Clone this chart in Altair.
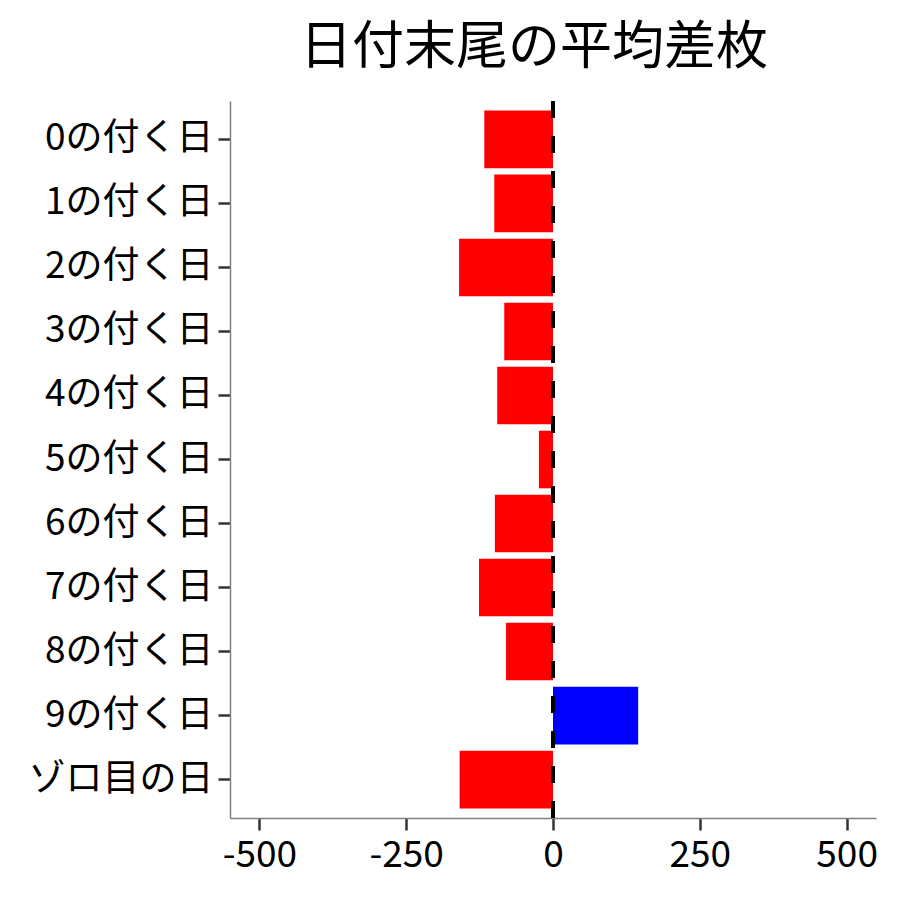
import altair as alt
import pandas as pd

categories = ["0の付く日", "1の付く日", "2の付く日", "3の付く日", "4の付く日",
              "5の付く日", "6の付く日", "7の付く日", "8の付く日", "9の付く日", "ゾロ目の日"]
values = [-117, -100, -160, -83, -95, -24, -99, -126, -80, 145, -159]
x_ticks = [-500, -250, 0, 250, 500]

df = pd.DataFrame({"label": categories, "value": values})
df["sign"] = ["pos" if v > 0 else "neg" for v in values]

FONT = "Noto Sans CJK JP"

x_enc = alt.X("value:Q",
              scale=alt.Scale(domain=[-550, 550], nice=False, zero=False),
              axis=alt.Axis(values=x_ticks, title=None, grid=False,
                            labelExpr="'' + datum.value"))

bars = alt.Chart(df).mark_bar().encode(
    x=x_enc,
    y=alt.Y("label:N", sort=categories,
            scale=alt.Scale(paddingInner=0.1, paddingOuter=0.15),
            axis=alt.Axis(title=None, grid=False, labelLimit=400)),
    color=alt.Color("sign:N", scale=alt.Scale(domain=["neg", "pos"], range=["#FF0000", "#0000FF"]),
                    legend=None),
)

rule = alt.Chart(df).mark_rule(color="black", strokeWidth=3.5, strokeDash=[17, 18]).encode(
    x=alt.datum(0)
)

chart = alt.layer(bars, rule).properties(
    width=646, height=717,
    title=alt.TitleParams("日付末尾の平均差枚", font=FONT, fontSize=52, fontWeight="normal",
                          anchor="middle", baseline="alphabetic", offset=37, dx=-19, dy=54,
                          color="black"),
    autosize=alt.AutoSizeParams(type="none"),
    padding={"left": 222, "top": 93, "right": 16, "bottom": 74},
).configure_view(stroke=None).configure_axis(
    labelFont=FONT, labelFontSize=37, labelColor="black",
    domainColor="#808080", domainWidth=1.5,
    tickColor="#333333", tickWidth=2.5, tickSize=12,
).configure_axisX(labelPadding=7).configure_axisY(labelPadding=5)

chart.save("out.html", embed_options={"renderer": "svg", "actions": False})
